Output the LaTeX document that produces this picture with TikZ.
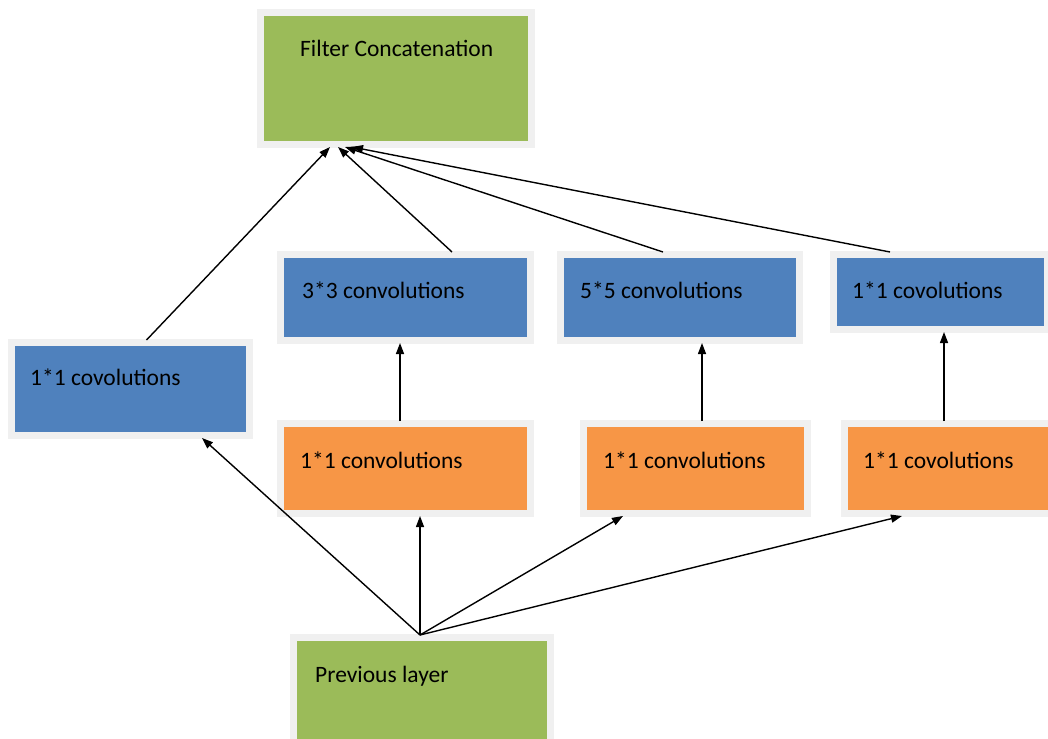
\documentclass[tikz,border=0pt]{standalone}
\usepackage{fontspec}
\setmainfont{Carlito}
\usepackage{xcolor}
\usetikzlibrary{arrows.meta}

\definecolor{incgreen}{HTML}{9BBB59}
\definecolor{incblue}{HTML}{4F81BD}
\definecolor{incorange}{HTML}{F79646}
\definecolor{framegrey}{HTML}{F0F0F0}

\tikzset{
  box/.style={rectangle, inner sep=0pt, outer sep=6pt,
    preaction={draw=framegrey, line width=14pt}},
  greenbox/.style={box, fill=incgreen},
  bluebox/.style={box, fill=incblue},
  orangebox/.style={box, fill=incorange},
  link/.style={-{Triangle[length=11pt,width=8pt]}, line width=1.4pt},
  lbl/.style={anchor=base west, inner sep=0pt, text=black,
    font=\fontsize{23.5}{28}\selectfont}
}

\begin{document}
\begin{tikzpicture}[x=1pt,y=-1pt]
\useasboundingbox (0,0) rectangle (1048,738);
% boxes
\node[greenbox, minimum width=264pt, minimum height=125pt] (concat) at (396,78.5) {};
\node[bluebox, minimum width=231pt, minimum height=86pt] (b1) at (130.5,389) {};
\node[bluebox, minimum width=243pt, minimum height=79pt] (c3) at (405.5,297.5) {};
\node[bluebox, minimum width=232pt, minimum height=79pt] (c5) at (680,297.5) {};
\node[bluebox, minimum width=207pt, minimum height=68pt] (r1) at (940.5,292) {};
\node[orangebox, minimum width=243pt, minimum height=83pt] (o1) at (405.5,468.5) {};
\node[orangebox, minimum width=217pt, minimum height=83pt] (o2) at (695.5,468.5) {};
\node[orangebox, minimum width=202pt, minimum height=83pt] (o3) at (949,468.5) {};
\node[greenbox, minimum width=250pt, minimum height=108pt] (prev) at (422,695) {};
% texts
\node[lbl] (tconcat) at (300,57) {Filter Concatenation};
\node[lbl] (tb1) at (30,385) {1*1 covolutions};
\node[lbl] (tc3) at (302,298) {3*3 convolutions};
\node[lbl] (tc5) at (580,298) {5*5 convolutions};
\node[lbl] (tr1) at (852,298) {1*1 covolutions};
\node[lbl] (to1) at (300,468) {1*1 convolutions};
\node[lbl] (to2) at (603,468) {1*1 convolutions};
\node[lbl] (to3) at (863,468) {1*1 covolutions};
\node[lbl] (tprev) at (315,682) {Previous layer};
% into the concatenation
\draw[link] ([xshift=16pt]b1.north) -- ([xshift=-66pt]concat.south);
\draw[link] ([xshift=46.5pt]c3.north) -- ([xshift=-58pt]concat.south);
\draw[link] ([xshift=-17pt]c5.north) -- ([xshift=-51pt]concat.south);
\draw[link] ([xshift=-50.5pt]r1.north) -- ([xshift=-44pt]concat.south);
% 1*1 reductions
\draw[link] ([xshift=-5.5pt]o1.north) -- ([xshift=-5.5pt]c3.south);
\draw[link] ([xshift=6.5pt]o2.north) -- ([xshift=22pt]c5.south);
\draw[link] ([xshift=-5pt]o3.north) -- ([xshift=3.5pt]r1.south);
% from the previous layer
\draw[link] ([xshift=-2pt]prev.north) -- ([xshift=71.5pt]b1.south);
\draw[link] ([xshift=-2pt]prev.north) -- ([xshift=14.5pt]o1.south);
\draw[link] ([xshift=-2pt]prev.north) -- ([xshift=-72.5pt]o2.south);
\draw[link] ([xshift=-2pt]prev.north) -- ([xshift=-47pt]o3.south);
\end{tikzpicture}
\end{document}
